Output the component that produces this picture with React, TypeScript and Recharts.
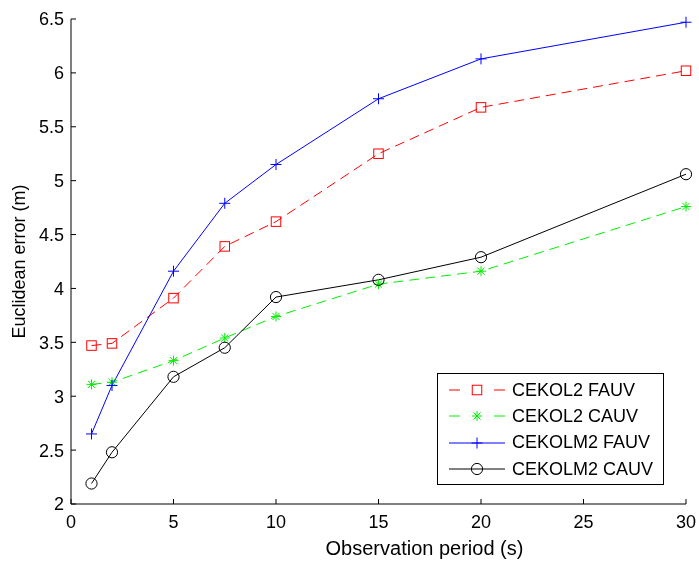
import { LineChart, Line, XAxis, YAxis } from 'recharts'

const PERIODS = [1, 2, 5, 7.5, 10, 15, 20, 30]
const CEKOL2_FAUV = [3.47, 3.49, 3.91, 4.39, 4.62, 5.25, 5.68, 6.02]
const CEKOL2_CAUV = [3.11, 3.13, 3.33, 3.54, 3.74, 4.04, 4.16, 4.76]
const CEKOLM2_FAUV = [2.65, 3.1, 4.16, 4.79, 5.15, 5.76, 6.13, 6.47]
const CEKOLM2_CAUV = [2.19, 2.48, 3.18, 3.45, 3.92, 4.08, 4.29, 5.06]
const X_TICKS = [0, 5, 10, 15, 20, 25, 30]
const Y_TICKS = [2, 2.5, 3, 3.5, 4, 4.5, 5, 5.5, 6, 6.5]

type MarkerKind = 'square' | 'star' | 'plus' | 'circle'

const SERIES: { key: string; name: string; color: string; dash?: string; marker: MarkerKind }[] = [
  { key: 'ol2f', name: 'CEKOL2 FAUV', color: '#ff0000', dash: '10 6', marker: 'square' },
  { key: 'ol2c', name: 'CEKOL2 CAUV', color: '#00ee00', dash: '10 6', marker: 'star' },
  { key: 'olm2f', name: 'CEKOLM2 FAUV', color: '#0000ff', marker: 'plus' },
  { key: 'olm2c', name: 'CEKOLM2 CAUV', color: '#000000', marker: 'circle' },
]

const data = PERIODS.map((t, i) => ({
  t,
  ol2f: CEKOL2_FAUV[i],
  ol2c: CEKOL2_CAUV[i],
  olm2f: CEKOLM2_FAUV[i],
  olm2c: CEKOLM2_CAUV[i],
}))

const FONT = '"Liberation Sans", Arial, sans-serif'

function Marker({ kind, cx, cy, color }: { kind: MarkerKind; cx: number; cy: number; color: string }) {
  const s = { stroke: color, strokeWidth: 1, fill: 'none' }
  if (kind === 'square') return <rect x={cx - 4.75} y={cy - 4.75} width={9.5} height={9.5} {...s} />
  if (kind === 'circle') return <circle cx={cx} cy={cy} r={5.6} {...s} />
  if (kind === 'plus')
    return (
      <g {...s}>
        <line x1={cx - 5.5} y1={cy} x2={cx + 5.5} y2={cy} />
        <line x1={cx} y1={cy - 5.5} x2={cx} y2={cy + 5.5} />
      </g>
    )
  return (
    <g {...s}>
      <line x1={cx - 5} y1={cy} x2={cx + 5} y2={cy} />
      <line x1={cx} y1={cy - 5} x2={cx} y2={cy + 5} />
      <line x1={cx - 3.6} y1={cy - 3.6} x2={cx + 3.6} y2={cy + 3.6} />
      <line x1={cx - 3.6} y1={cy + 3.6} x2={cx + 3.6} y2={cy - 3.6} />
    </g>
  )
}

function LegendBox() {
  return (
    <div
      style={{
        position: 'absolute',
        left: 437,
        top: 373,
        border: '1px solid #000',
        background: '#fff',
        boxSizing: 'border-box',
        width: 227,
        height: 112,
        paddingTop: 3,
        fontFamily: FONT,
        fontSize: 18,
        color: '#000',
      }}
    >
      {SERIES.map((s) => (
        <div key={s.key} style={{ display: 'flex', alignItems: 'center', height: 26.3 }}>
          <svg width={56} height={14} style={{ marginLeft: 11 }}>
            <line
              x1={0}
              y1={7}
              x2={56}
              y2={7}
              stroke={s.color}
              strokeWidth={1}
              strokeDasharray={s.dash ? '11 34' : undefined}
            />
            <Marker kind={s.marker} cx={28} cy={7} color={s.color} />
          </svg>
          <span style={{ marginLeft: 7, whiteSpace: 'nowrap' }}>{s.name}</span>
        </div>
      ))}
    </div>
  )
}

export default function App() {
  return (
    <div style={{ fontFamily: FONT, position: 'fixed', left: 0, top: 0, width: 699, height: 562 }}>
      <LineChart
        width={699}
        height={562}
        data={data}
        margin={{ top: 19, right: 13, bottom: 0, left: 0 }}
        style={{ fontFamily: FONT }}
      >
        <XAxis
          dataKey="t"
          type="number"
          domain={[0, 30]}
          ticks={X_TICKS}
          interval={0}
          height={58}
          tickSize={-5}
          tickMargin={16}
          axisLine={{ stroke: '#000' }}
          tickLine={{ stroke: '#000' }}
          tick={{ fill: '#000', fontSize: 18 }}
          label={{
            value: 'Observation period (s)',
            position: 'insideBottom',
            offset: 7,
            dx: 46,
            fill: '#000',
            fontSize: 20,
          }}
        />
        <YAxis
          type="number"
          domain={[2, 6.5]}
          ticks={Y_TICKS}
          interval={0}
          width={71}
          tickSize={-5}
          tickMargin={12}
          axisLine={{ stroke: '#000' }}
          tickLine={{ stroke: '#000' }}
          tick={{ fill: '#000', fontSize: 18 }}
          label={{
            value: 'Euclidean error (m)',
            angle: -90,
            position: 'insideLeft',
            offset: 19,
            fill: '#000',
            fontSize: 18,
            style: { textAnchor: 'middle' },
          }}
        />
        {SERIES.map((s) => (
          <Line
            key={s.key}
            dataKey={s.key}
            name={s.name}
            type="linear"
            stroke={s.color}
            strokeWidth={1}
            strokeDasharray={s.dash}
            isAnimationActive={false}
            activeDot={false}
            dot={(p: any) => (
              <Marker key={`${s.key}-${p.index}`} kind={s.marker} cx={p.cx} cy={p.cy} color={s.color} />
            )}
          />
        ))}
      </LineChart>
      <LegendBox />
    </div>
  )
}
